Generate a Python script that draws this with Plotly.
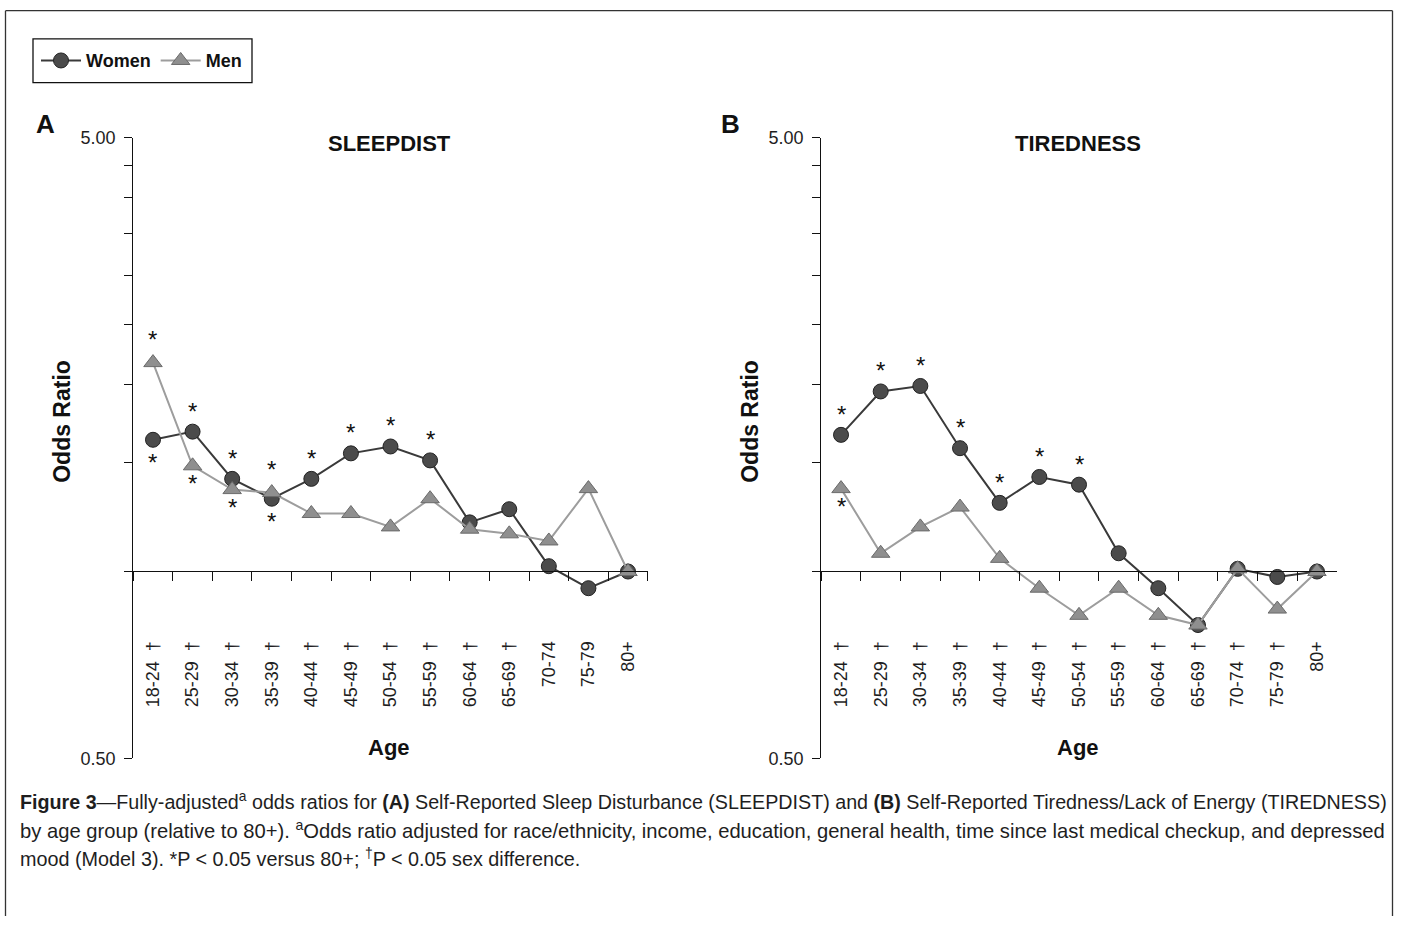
import math
import plotly.graph_objects as go

# ---------------- data ----------------
ages = ["18-24", "25-29", "30-34", "35-39", "40-44", "45-49", "50-54",
        "55-59", "60-64", "65-69", "70-74", "75-79", "80+"]

sleep_women = [1.63, 1.68, 1.41, 1.31, 1.41, 1.55, 1.59, 1.51, 1.20, 1.26, 1.02, 0.94, 1.00]
sleep_men = [2.17, 1.48, 1.355, 1.34, 1.24, 1.24, 1.18, 1.31, 1.17, 1.15, 1.12, 1.36, 1.00]
tired_women = [1.66, 1.95, 1.99, 1.58, 1.29, 1.42, 1.38, 1.07, 0.94, 0.82, 1.01, 0.98, 1.00]
tired_men = [1.36, 1.07, 1.18, 1.27, 1.05, 0.94, 0.85, 0.94, 0.85, 0.82, 1.01, 0.87, 1.00]

# significance vs 80+ ("above"/"below" = where the asterisk sits)
stars_sleep_women = ["below", "above", "above", "below", "above", "above", "above", "above", "", "", "", "", ""]
stars_sleep_men = ["above", "below", "below", "above", "", "", "", "", "", "", "", "", ""]
stars_tired_women = ["above", "above", "above", "above", "above", "above", "above", "", "", "", "", "", ""]
stars_tired_men = ["below", "", "", "", "", "", "", "", "", "", "", "", ""]

# sex difference (dagger)
sexdiff_sleep = [True] * 10 + [False] * 3
sexdiff_tired = [True] * 12 + [False]

y_ticks = [0.5, 1.0, 1.5, 2.0, 2.5, 3.0, 3.5, 4.0, 4.5, 5.0]
y_ticktext = ["0.50", "", "", "", "", "", "", "", "", "5.00"]

caption_lines = [
    "<b>Figure 3</b>—Fully-adjusted<sup>a</sup> odds ratios for <b>(A)</b> Self-Reported Sleep Disturbance (SLEEPDIST) and <b>(B)</b> Self-Reported Tiredness/Lack of Energy (TIREDNESS)",
    "by age group (relative to 80+). <sup>a</sup>Odds ratio adjusted for race/ethnicity, income, education, general health, time since last medical checkup, and depressed",
    "mood (Model 3). *P &lt; 0.05 versus 80+; <sup>†</sup>P &lt; 0.05 sex difference.",
]
caption_sizes = [19.7, 20.2, 19.8]

# ---------------- layout helpers ----------------
W, H = 1401, 926
# vertical compensation observed in the rendered picture
Y_OFF, Y_SCALE = 9.1, 0.981


def px(x):
    return x / W


def py(y):
    yl = (y - Y_OFF) / Y_SCALE
    return 1 - yl / H


FONT = "Liberation Sans, Arial, Helvetica, sans-serif"
BLACK = "#111111"
TEXT = "#1e1e1e"

WOMEN_LINE = "#3a3a3a"
WOMEN_FILL = "#4b4b4b"
MEN_LINE = "#9d9d9d"
MEN_FILL = "#8f8f8f"

# asterisk offsets (px) per series
STAR_SHIFT = {"women": {"above": 20.5, "below": -23},
              "men": {"above": 23.5, "below": -18}}

panels = [
    dict(xa="x", ya="y", xname="xaxis", yname="yaxis", women=sleep_women, men=sleep_men,
         sw=stars_sleep_women, sm=stars_sleep_men, sd=sexdiff_sleep,
         dom=[133.2, 647.8], title="SLEEPDIST", letter="A", lx=45, ytx=62, legend=True),
    dict(xa="x2", ya="y2", xname="xaxis2", yname="yaxis2", women=tired_women, men=tired_men,
         sw=stars_tired_women, sm=stars_tired_men, sd=sexdiff_tired,
         dom=[821.2, 1336.8], title="TIREDNESS", letter="B", lx=730, ytx=750, legend=False),
]

fig = go.Figure()
annotations = []
shapes = []

for p in panels:
    fig.add_trace(go.Scatter(
        x=ages, y=p["women"], xaxis=p["xa"], yaxis=p["ya"], name="Women",
        mode="lines+markers", showlegend=p["legend"],
        line=dict(color=WOMEN_LINE, width=2),
        marker=dict(symbol="circle", size=15, color=WOMEN_FILL, line=dict(color="#222222", width=1)),
    ))
    fig.add_trace(go.Scatter(
        x=ages, y=p["men"], xaxis=p["xa"], yaxis=p["ya"], name="Men",
        mode="lines+markers", showlegend=p["legend"],
        line=dict(color=MEN_LINE, width=2),
        marker=dict(symbol="triangle-up", size=16, color=MEN_FILL, line=dict(color="#6a6a6a", width=1)),
    ))

    ticktext = [a + "  †" if d else a for a, d in zip(ages, p["sd"])]
    fig.layout[p["xname"]] = dict(
        type="category", categoryorder="array", categoryarray=ages,
        range=[-0.5, len(ages) - 0.5],
        domain=[px(p["dom"][0]), px(p["dom"][1])],
        anchor="free", position=py(571.5),
        showline=True, linecolor=BLACK, linewidth=1.3,
        ticks="outside", tickson="boundaries", ticklen=9, tickwidth=1.3, tickcolor=BLACK,
        tickmode="array", tickvals=ages, ticktext=ticktext,
        tickangle=-90, ticklabelstandoff=62,
        tickfont=dict(family=FONT, size=18, color=TEXT),
        showgrid=False, zeroline=False, fixedrange=True,
    )
    fig.layout[p["yname"]] = dict(
        type="log", range=[math.log10(0.5), math.log10(5.0)],
        domain=[py(759.5), py(137)], anchor=p["xa"],
        showline=True, linecolor=BLACK, linewidth=1.3,
        ticks="outside", ticklen=8, tickwidth=1.3, tickcolor=BLACK,
        tickmode="array", tickvals=y_ticks, ticktext=y_ticktext, ticklabelstandoff=5,
        tickfont=dict(family=FONT, size=18, color=TEXT),
        showgrid=False, zeroline=False, fixedrange=True,
    )

    # baseline extension left of the y axis at OR = 1
    shapes.append(dict(type="line", xref="paper", yref=p["ya"],
                       x0=px(p["dom"][0] - 12), x1=px(p["dom"][0]), y0=0, y1=0,
                       line=dict(color=BLACK, width=1.3)))

    # significance asterisks
    for key, series, stars in (("women", p["women"], p["sw"]), ("men", p["men"], p["sm"])):
        for a, v, s in zip(ages, series, stars):
            if not s:
                continue
            annotations.append(dict(
                x=a, y=math.log10(v), xref=p["xa"], yref=p["ya"], text="*",
                xanchor="center", yanchor="middle",
                showarrow=False, yshift=STAR_SHIFT[key][s],
                font=dict(family=FONT, size=24, color=BLACK),
            ))

    # panel title, letter, axis titles
    cx = (p["dom"][0] + p["dom"][1]) / 2 - 1.5
    common = dict(xref="paper", yref="paper", xanchor="center", yanchor="middle", showarrow=False)
    annotations.append(dict(x=px(cx), y=py(143), text="<b>" + p["title"] + "</b>",
                            font=dict(family=FONT, size=22, color=BLACK), **common))
    annotations.append(dict(x=px(p["lx"]), y=py(123), text="<b>" + p["letter"] + "</b>",
                            font=dict(family=FONT, size=26, color=BLACK), **common))
    annotations.append(dict(x=px(p["ytx"]), y=py(422), text="<b>Odds Ratio</b>", textangle=-90,
                            font=dict(family=FONT, size=23, color=BLACK), **common))
    annotations.append(dict(x=px(cx), y=py(749), text="<b>Age</b>",
                            font=dict(family=FONT, size=22, color=BLACK), **common))

# caption
for i, (line, fs) in enumerate(zip(caption_lines, caption_sizes)):
    annotations.append(dict(x=px(18), y=py(802 + i * 28.5), xref="paper", yref="paper",
                            xanchor="left", yanchor="middle", align="left", text=line,
                            showarrow=False, font=dict(family=FONT, size=fs, color=TEXT)))

# outer frame: left, top and right edges (open at the bottom of the picture)
frame_style = dict(color="#333333", width=1.3)
top = 1 - 0.7 / H
for x0, y0, x1, y1 in ((5.5, top, 5.5, 0), (5.5, top, 1392.5, top), (1392.5, top, 1392.5, 0)):
    shapes.append(dict(type="line", xref="paper", yref="paper",
                       x0=px(x0), y0=y0, x1=px(x1), y1=y1, line=frame_style))

# legend frame
shapes.append(dict(type="rect", xref="paper", yref="paper",
                   x0=px(33), x1=px(252), y0=py(82), y1=py(38),
                   line=dict(color=BLACK, width=1.3), fillcolor="rgba(0,0,0,0)", layer="above"))

fig.update_layout(
    width=W, height=H, margin=dict(l=0, r=0, t=0, b=0),
    paper_bgcolor="white", plot_bgcolor="white",
    annotations=annotations, shapes=shapes,
    legend=dict(x=px(36), y=py(60), xanchor="left", yanchor="middle", orientation="h",
                borderwidth=0, bgcolor="rgba(0,0,0,0)",
                font=dict(family=FONT, size=18, color=BLACK, weight="bold"),
                itemwidth=40, tracegroupgap=0),
    font=dict(family=FONT),
)

fig.write_html("out.html", post_script="document.body.style.margin='0px';")
